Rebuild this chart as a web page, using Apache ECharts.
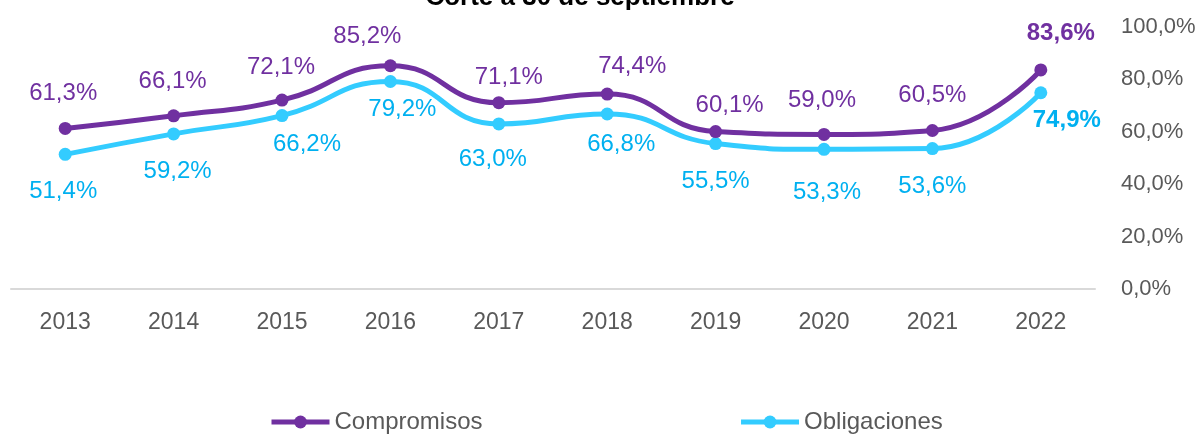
<!DOCTYPE html>
<html>
<head>
<meta charset="utf-8">
<script src="https://cdn.jsdelivr.net/npm/echarts@6/dist/echarts.min.js"></script>
<style>
  html, body { margin: 0; padding: 0; background: #fff; }
  #chart { width: 1200px; height: 435px; }
</style>
</head>
<body>
<div id="chart"></div>
<script>
// datos
var years = ['2013', '2014', '2015', '2016', '2017', '2018', '2019', '2020', '2021', '2022'];
var compromisos = [61.3, 66.1, 72.1, 85.2, 71.1, 74.4, 60.1, 59.0, 60.5, 83.6];
var obligaciones = [51.4, 59.2, 66.2, 79.2, 63.0, 66.8, 55.5, 53.3, 53.6, 74.9];
var yTicks = [0, 20, 40, 60, 80, 100];

// desplazamiento de cada etiqueta respecto al punto (como en el original)
var compLabelShift = [[-2, -35], [-1, -34], [-1, -33], [-23, -29], [10, -25], [25, -28], [14, -26], [-2, -34], [0, -35], [20, -37]];
var oblLabelShift = [[-2, 37], [4, 37], [25, 29], [12, 28], [-6, 35], [14, 30], [0, 38], [3, 43], [0, 38], [26, 28]];

var FONT = "'Liberation Sans', Arial, sans-serif";
var PURPLE = '#7030A0';
var CYAN_LINE = '#33CCFF';
var CYAN_TEXT = '#00B0F0';
var GREY = '#595959';

function pct(v) {
  return v.toFixed(1).replace('.', ',') + '%';
}

function withLabels(values, shifts) {
  return values.map(function (v, i) {
    var item = { value: v, label: { offset: shifts[i] } };
    if (i === values.length - 1) {
      item.label.fontWeight = 'bold';  // 2022 en negrita
    }
    return item;
  });
}

var chart = echarts.init(document.getElementById('chart'));

var option = {
  animation: false,
  title: {
    text: 'Corte a 30 de septiembre',
    left: 575,
    textAlign: 'center',
    top: -20,
    textStyle: {
      fontFamily: FONT,
      fontWeight: 'bold',
      fontSize: 26,
      color: '#000'
    }
  },
  grid: {
    left: 11,
    right: 105,
    top: 27,
    bottom: 146,
    containLabel: false,
    outerBoundsMode: 'none'
  },
  legend: {
    top: 405,
    left: 264,
    itemGap: 256,
    itemWidth: 58,
    itemHeight: 16,
    lineStyle: { width: 5 },
    textStyle: {
      fontFamily: FONT,
      fontSize: 24,
      color: GREY
    },
    data: ['Compromisos', 'Obligaciones']
  },
  xAxis: {
    type: 'category',
    data: years,
    boundaryGap: true,
    axisLine: { lineStyle: { color: '#D9D9D9', width: 2 } },
    axisTick: { show: false },
    axisLabel: {
      margin: 22,
      fontFamily: FONT,
      fontSize: 23,
      color: GREY
    }
  },
  yAxis: {
    type: 'value',
    position: 'right',
    min: yTicks[0],
    max: yTicks[yTicks.length - 1],
    interval: 20,
    splitLine: { show: false },
    axisLine: { show: false },
    axisTick: { show: false },
    axisLabel: {
      margin: 26,
      align: 'left',
      fontFamily: FONT,
      fontSize: 22,
      color: GREY,
      formatter: function (v) { return pct(v); }
    }
  },
  series: [{
    name: 'Compromisos',
    type: 'line',
    smooth: 0.5,
    data: withLabels(compromisos, compLabelShift),
    symbol: 'circle',
    symbolSize: 13,
    itemStyle: { color: PURPLE },
    lineStyle: { color: PURPLE, width: 5 },
    label: {
      show: true,
      position: 'inside',
      fontFamily: FONT,
      fontSize: 24,
      color: PURPLE,
      formatter: function (p) { return pct(p.value); }
    },
    z: 3
  }, {
    name: 'Obligaciones',
    type: 'line',
    smooth: 0.5,
    data: withLabels(obligaciones, oblLabelShift),
    symbol: 'circle',
    symbolSize: 13,
    itemStyle: { color: CYAN_LINE },
    lineStyle: { color: CYAN_LINE, width: 5 },
    label: {
      show: true,
      position: 'inside',
      fontFamily: FONT,
      fontSize: 24,
      color: CYAN_TEXT,
      formatter: function (p) { return pct(p.value); }
    },
    z: 2
  }]
};

chart.setOption(option);
</script>
</body>
</html>
